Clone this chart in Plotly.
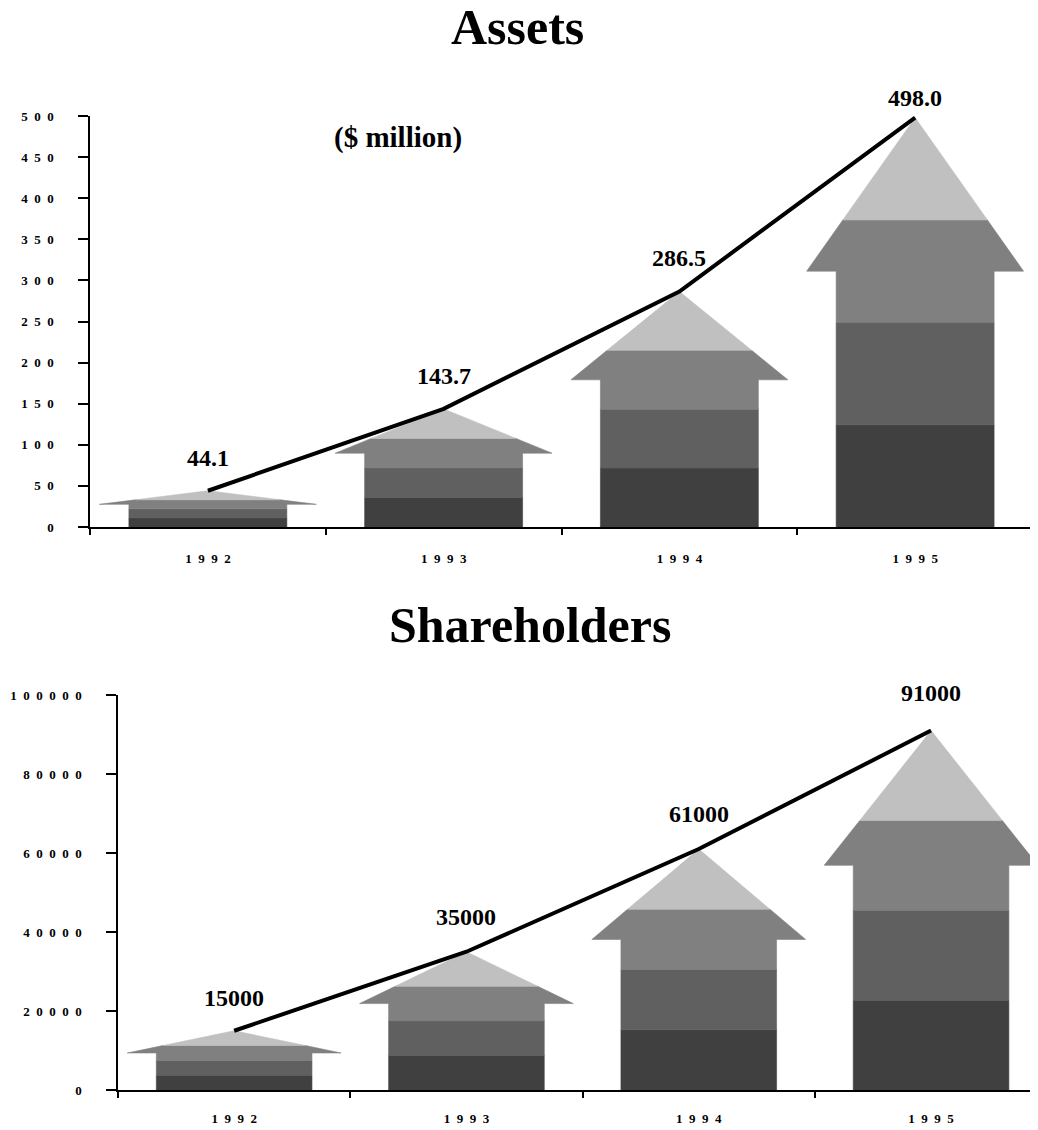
import plotly.graph_objects as go

# ---------------- data ----------------
years = ["1992", "1993", "1994", "1995"]
assets = [44.1, 143.7, 286.5, 498.0]
asset_labels = ["44.1", "143.7", "286.5", "498.0"]
shareholders = [15000, 35000, 61000, 91000]
share_labels = ["15000", "35000", "61000", "91000"]
asset_ticks = [0, 50, 100, 150, 200, 250, 300, 350, 400, 450, 500]
share_ticks = [0, 20000, 40000, 60000, 80000, 100000]

# ---------------- style ----------------
PAGE_W, PAGE_H = 1038, 1130
OFF = 8                      # default page body margin
W, H = PAGE_W - OFF, PAGE_H - OFF
FONT = "Liberation Serif"
BAND_COLORS = ["#404040", "#606060", "#808080", "#C0C0C0"]
BODY = 0.335      # half width of arrow body (category units)
HEAD = 0.46       # half width of arrow head
SHOULDER = 0.625  # fraction of height where head starts
EN = "\u2002"


def px(x):
    return (x - OFF) / W


def py(y):
    return 1 - (y - OFF) / H


def spaced(s):
    return EN.join(list(s))


def half_width(f):
    if f < SHOULDER:
        return BODY
    return HEAD * (1 - (f - SHOULDER) / (1 - SHOULDER))


def band_polygon(c, h, f0, f1):
    right = [(half_width(f0), f0)]
    if f0 < SHOULDER < f1:
        right += [(BODY, SHOULDER), (HEAD, SHOULDER)]
    right.append((half_width(f1), f1))
    left = [(-w, f) for (w, f) in reversed(right)]
    pts = right + left
    xs = [c + w for w, f in pts] + [c + right[0][0]]
    ys = [f * h for w, f in pts] + [right[0][1] * h]
    return xs, ys


fig = go.Figure()


def add_panel(values, labels, xa, ya, label_shift):
    centers = [i + 0.5 for i in range(len(values))]
    for c, v in zip(centers, values):
        for k, col in enumerate(BAND_COLORS):
            xs, ys = band_polygon(c, v, k / 4, (k + 1) / 4)
            fig.add_trace(go.Scatter(
                x=xs, y=ys, fill="toself", fillcolor=col, mode="lines",
                line=dict(width=0.6, color=col), hoverinfo="skip",
                showlegend=False, xaxis=xa, yaxis=ya))
    fig.add_trace(go.Scatter(
        x=centers, y=values, mode="lines", line=dict(color="black", width=4),
        hoverinfo="skip", showlegend=False, xaxis=xa, yaxis=ya))
    for c, v, t, s in zip(centers, values, labels, label_shift):
        fig.add_annotation(x=c, y=v, xref=xa, yref=ya, text=t, showarrow=False,
                           yshift=s, yanchor="middle",
                           font=dict(family=FONT, size=24, color="black", weight="bold"))


add_panel(assets, asset_labels, "x", "y", [33, 33, 33, 20])
add_panel(shareholders, share_labels, "x2", "y2", [33, 35, 35, 38])

tickfont = dict(family=FONT, size=13, color="black", weight="bold")
line_w = 1.5

# panel geometry in page pixels
a_x0, a_x1 = 90, 1033
a_y0, a_y1 = 527, 116
b_x0 = 118
b_cat = 232.3
b_y0, b_y1 = 1090, 695

a_dom_x = [px(a_x0), px(a_x1)]
a_dom_y = [py(a_y0), py(a_y1)]
b_dom_x = [px(b_x0), 1.0]
b_dom_y = [py(b_y0), py(b_y1)]
b_xmax = (PAGE_W - b_x0) / b_cat

common_x = dict(showgrid=False, zeroline=False, fixedrange=True, automargin=False)
bounds = [0, 1, 2, 3, 4]
centers = [0.5, 1.5, 2.5, 3.5]

fig.update_layout(
    width=W, height=H, margin=dict(l=0, r=0, t=0, b=0, autoexpand=False),
    paper_bgcolor="white", plot_bgcolor="white",
    xaxis=dict(domain=a_dom_x, range=[0, 4], anchor="y", showline=True,
               linecolor="black", linewidth=line_w,
               tickmode="array", tickvals=centers, ticktext=[spaced(y) for y in years],
               ticks="", tickfont=tickfont, ticklabelstandoff=19,
               minor=dict(tickmode="array", tickvals=bounds, ticks="outside",
                          ticklen=6, tickwidth=line_w, tickcolor="black"),
               **common_x),
    xaxis3=dict(overlaying="x", anchor="y", range=[0, 4], showline=False,
                tickmode="array", tickvals=bounds, ticks="inside", ticklen=6,
                tickwidth=line_w, tickcolor="black", showticklabels=False,
                **common_x),
    yaxis=dict(domain=a_dom_y, range=[0, 500], anchor="x", showline=True,
               linecolor="black", linewidth=line_w, tickmode="array",
               tickvals=asset_ticks, ticktext=[spaced(str(t)) for t in asset_ticks],
               ticks="outside", ticklen=10, tickwidth=line_w, tickcolor="black",
               tickfont=tickfont, ticklabelstandoff=22, **common_x),
    yaxis3=dict(overlaying="y", anchor="x", range=[0, 500], showline=False,
                tickmode="array", tickvals=asset_ticks, ticks="inside", ticklen=10,
                tickwidth=line_w, tickcolor="black", showticklabels=False,
                **common_x),
    xaxis2=dict(domain=b_dom_x, range=[0, b_xmax], anchor="y2", showline=True,
                linecolor="black", linewidth=line_w,
                tickmode="array", tickvals=centers, ticktext=[spaced(y) for y in years],
                ticks="", tickfont=tickfont, ticklabelstandoff=16,
                minor=dict(tickmode="array", tickvals=bounds, ticks="outside",
                           ticklen=6, tickwidth=line_w, tickcolor="black"),
                **common_x),
    xaxis4=dict(overlaying="x2", anchor="y2", range=[0, b_xmax], showline=False,
                tickmode="array", tickvals=bounds, ticks="inside", ticklen=6,
                tickwidth=line_w, tickcolor="black", showticklabels=False,
                **common_x),
    yaxis2=dict(domain=b_dom_y, range=[0, 100000], anchor="x2", showline=True,
                linecolor="black", linewidth=line_w, tickmode="array",
                tickvals=share_ticks, ticktext=[spaced(str(t)) for t in share_ticks],
                ticks="outside", ticklen=10, tickwidth=line_w, tickcolor="black",
                tickfont=tickfont, ticklabelstandoff=22, **common_x),
    yaxis4=dict(overlaying="y2", anchor="x2", range=[0, 100000], showline=False,
                tickmode="array", tickvals=share_ticks, ticks="inside", ticklen=10,
                tickwidth=line_w, tickcolor="black", showticklabels=False,
                **common_x),
)

# titles and unit note
title_font = dict(family=FONT, size=50, color="black", weight="bold")
fig.add_annotation(text="Assets", x=px(517), y=py(27), xref="paper", yref="paper",
                   height=38, showarrow=False, xanchor="center", yanchor="middle",
                   font=title_font)
fig.add_annotation(text="Shareholders", x=px(530), y=py(625), xref="paper", yref="paper",
                   showarrow=False, xanchor="center", yanchor="middle", font=title_font)
fig.add_annotation(text="($ million)", x=1.305, y=474, xref="x", yref="y",
                   showarrow=False, xanchor="center", yanchor="middle",
                   font=dict(family=FONT, size=29, color="black", weight="bold"))

fig.write_html("out.html")
